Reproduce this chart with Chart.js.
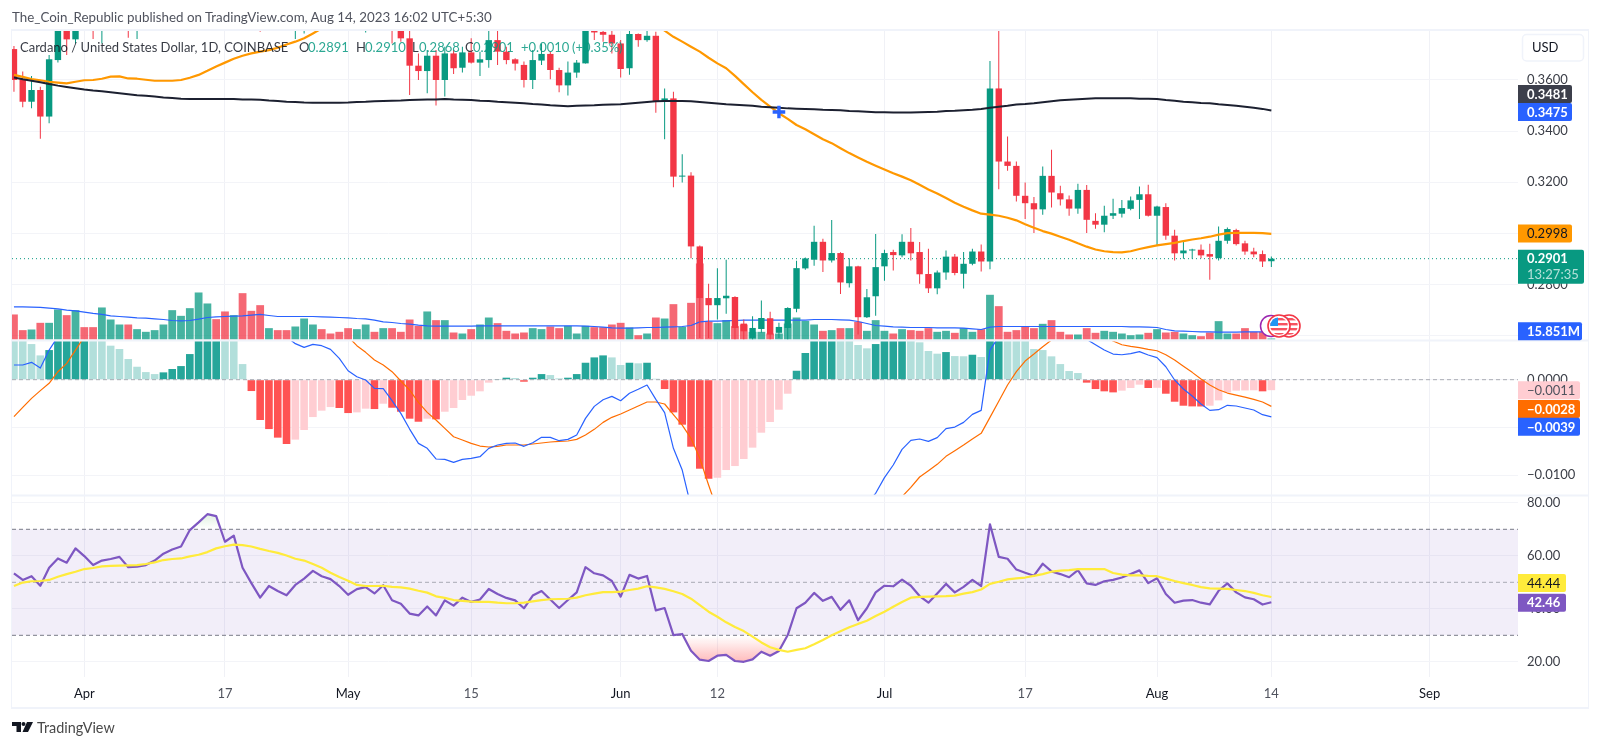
<!DOCTYPE html>
<html>
<head>
<meta charset="utf-8">
<script src="https://cdn.jsdelivr.net/npm/chart.js@4.4.3/dist/chart.umd.min.js"></script>
<style>
  html, body { margin: 0; padding: 0; background: #fff; }
  #wrap { position: relative; width: 1600px; height: 747px; overflow: hidden; font-family: Lato, sans-serif; }
  canvas { position: absolute; left: 0; top: 0; }
  .txt { position: absolute; white-space: nowrap; line-height: 18px; font-size: 13px; }
  .lg { top: 38px; color: #131722; opacity: 0.85; }
  .val { color: #089981; }
</style>
</head>
<body>
<div id="wrap">
  <canvas id="chart" width="1600" height="747"></canvas>
  <div class="txt" style="left:12px;top:8px;color:#50535e;font-size:13.35px">The_Coin_Republic published on TradingView.com, Aug 14, 2023 16:02 UTC+5:30</div>
  <div class="txt lg" style="left:20px">Cardano / United States Dollar, 1D, COINBASE</div>
  <div class="txt lg" style="left:299px">O</div><div class="txt lg val" style="left:308px">0.2891</div>
  <div class="txt lg" style="left:356px">H</div><div class="txt lg val" style="left:365px">0.2910</div>
  <div class="txt lg" style="left:412px">L</div><div class="txt lg val" style="left:419px">0.2868</div>
  <div class="txt lg" style="left:465px">C</div><div class="txt lg val" style="left:473px">0.2901</div>
  <div class="txt lg val" style="left:521px">+0.0010</div><div class="txt lg val" style="left:572px">(+0.35%)</div>
  <svg style="position:absolute;left:12px;top:722px" width="21" height="10" viewBox="0 0 21 10">
    <path d="M0 0H9V10H4.5V4H0Z M15 0H21L16 10H10.5Z" fill="#131722"/><circle cx="11.5" cy="2" r="2" fill="#131722"/>
  </svg>
  <div class="txt" style="left:37px;top:719px;color:#4a4a4a;font-size:14.4px">TradingView</div>
</div>
<script>
// daily bars, Mar 24 to Aug 14 2023. bars above the clipped top edge are estimates
const candleOpen = [
  .3721,.3603,.3515,.3561,.3457,.3678,.3920,.3759,.3905,.3880,
  .3850,.3920,.3950,.3980,.3900,.3950,.3990,.4020,.4040,.4120,
  .4160,.4210,.4350,.4460,.4440,.4380,.4400,.4200,.4120,.3950,
  .3990,.3960,.3930,.3980,.4030,.4060,.4030,.4010,.3990,.3950,
  .3980,.4010,.3970,.4000,.3850,.3763,.3656,.3635,.3695,.3600,
  .3704,.3648,.3708,.3668,.3678,.3756,.3711,.3681,.3659,.3600,
  .3676,.3702,.3639,.3579,.3629,.3665,.3793,.3788,.3777,.3743,
  .3646,.3780,.3756,.3773,.3515,.3528,.3222,.3226,.2949,.2747,
  .2719,.2746,.2751,.2647,.2591,.2626,.2668,.2611,.2630,.2705,
  .2863,.2897,.2967,.2894,.2923,.2805,.2871,.2672,.2754,.2871,
  .2927,.2914,.2967,.2927,.2841,.2785,.2847,.2909,.2842,.2881,
  .2929,.2890,.3567,.3281,.3264,.3147,.3118,.3094,.3225,.3157,
  .3133,.3097,.3170,.3049,.3034,.3069,.3077,.3096,.3131,.3153,
  .3069,.3103,.2991,.2922,.2933,.2936,.2919,.2903,.2971,.3013,
  .2961,.2929,.2919,.2891];
const candleHigh = [
  .3733,.3633,.3616,.3574,.3698,.3945,.3960,.3930,.3925,.3900,
  .3950,.3970,.4000,.3990,.3980,.4010,.4040,.4060,.4150,.4200,
  .4250,.4400,.4520,.4510,.4480,.4450,.4420,.4260,.4170,.4040,
  .4020,.4010,.4020,.4060,.4090,.4100,.4060,.4040,.4010,.4010,
  .4060,.4030,.4030,.4010,.3880,.3820,.3704,.3717,.3717,.3730,
  .3717,.3730,.3763,.3711,.3810,.3810,.3730,.3685,.3672,.3717,
  .3743,.3711,.3648,.3672,.3678,.3850,.3830,.3800,.3800,.3756,
  .3800,.3782,.3800,.3789,.3567,.3554,.3310,.3239,.2953,.2803,
  .2864,.2897,.2754,.2663,.2676,.2737,.2693,.2650,.2711,.2893,
  .2906,.3030,.2979,.3052,.2926,.2903,.2873,.2782,.2998,.2936,
  .2936,.2997,.3021,.2966,.2940,.2855,.2933,.2919,.2927,.2940,
  .2956,.3674,.3850,.3379,.3281,.3199,.3142,.3262,.3327,.3186,
  .3148,.3194,.3189,.3079,.3108,.3135,.3131,.3144,.3183,.3190,
  .3108,.3118,.3014,.2971,.2940,.2956,.2959,.3027,.3023,.3018,
  .2971,.2944,.2933,.2910];
const candleLow = [
  .3554,.3493,.3489,.3370,.3431,.3668,.3698,.3743,.3830,.3760,
  .3743,.3880,.3920,.3765,.3760,.3910,.3960,.3990,.4020,.4090,
  .4130,.4180,.4320,.4390,.4340,.4300,.4090,.4050,.3789,.3900,
  .3850,.3880,.3760,.3782,.3980,.3950,.3970,.3940,.3900,.3900,
  .3786,.3900,.3910,.3743,.3750,.3541,.3600,.3548,.3500,.3535,
  .3623,.3629,.3665,.3616,.3648,.3659,.3662,.3637,.3571,.3565,
  .3659,.3603,.3552,.3539,.3609,.3665,.3756,.3750,.3704,.3610,
  .3621,.3730,.3750,.3472,.3368,.3180,.3199,.2903,.2591,.2591,
  .2663,.2686,.2584,.2584,.2584,.2611,.2584,.2591,.2584,.2691,
  .2858,.2873,.2849,.2886,.2763,.2788,.2604,.2669,.2678,.2815,
  .2855,.2907,.2894,.2803,.2767,.2762,.2819,.2836,.2784,.2875,
  .2851,.2860,.3173,.3245,.3125,.3056,.3001,.3073,.3101,.3109,
  .3069,.3077,.3001,.3018,.3004,.3056,.3062,.3090,.3056,.3066,
  .2953,.2975,.2894,.2901,.2901,.2903,.2819,.2894,.2959,.2953,
  .2916,.2907,.2868,.2868];
const candleClose = [
  .3600,.3515,.3561,.3457,.3681,.3920,.3759,.3905,.3880,.3850,
  .3920,.3950,.3980,.3900,.3950,.3990,.4020,.4040,.4120,.4160,
  .4210,.4350,.4460,.4440,.4380,.4400,.4200,.4120,.3950,.3990,
  .3960,.3930,.3980,.4030,.4060,.4030,.4010,.3990,.3950,.3980,
  .4010,.3970,.4000,.3850,.3763,.3656,.3635,.3695,.3600,.3704,
  .3646,.3708,.3668,.3681,.3756,.3711,.3678,.3664,.3600,.3678,
  .3702,.3639,.3579,.3629,.3668,.3830,.3786,.3777,.3743,.3643,
  .3780,.3756,.3773,.3515,.3528,.3222,.3226,.2949,.2747,.2719,
  .2747,.2756,.2630,.2617,.2630,.2669,.2604,.2634,.2708,.2864,
  .2902,.2967,.2894,.2923,.2808,.2871,.2672,.2750,.2868,.2923,
  .2915,.2967,.2922,.2840,.2785,.2847,.2909,.2845,.2881,.2929,
  .2890,.3567,.3281,.3264,.3147,.3118,.3094,.3225,.3160,.3133,
  .3097,.3170,.3053,.3034,.3069,.3079,.3099,.3129,.3153,.3069,
  .3105,.2991,.2922,.2933,.2937,.2914,.2909,.2971,.3017,.2958,
  .2929,.2918,.2890,.2901];
const emaOrange = [
  .3620,.3612,.3604,.3599,.3593,.3590,.3587,.3593,.3599,.3600,
  .3605,.3613,.3614,.3606,.3605,.3601,.3597,.3597,.3597,.3600,
  .3609,.3620,.3636,.3653,.3668,.3683,.3695,.3704,.3711,.3717,
  .3726,.3739,.3750,.3763,.3782,.3802,.3822,.3840,.3858,.3875,
  .3890,.3905,.3918,.3930,.3942,.3950,.3958,.3965,.3970,.3975,
  .3980,.3983,.3985,.3987,.3988,.3989,.3990,.3990,.3989,.3985,
  .3980,.3975,.3970,.3965,.3958,.3952,.3945,.3938,.3930,.3920,
  .3905,.3885,.3855,.3818,.3793,.3769,.3750,.3730,.3711,.3687,
  .3665,.3646,.3616,.3584,.3552,.3522,.3496,.3470,.3448,.3424,
  .3407,.3388,.3368,.3353,.3333,.3314,.3297,.3280,.3265,.3250,
  .3235,.3222,.3208,.3190,.3172,.3156,.3138,.3120,.3104,.3090,
  .3077,.3073,.3069,.3061,.3051,.3036,.3022,.3009,.2999,.2987,
  .2975,.2961,.2948,.2937,.2930,.2927,.2926,.2930,.2939,.2946,
  .2953,.2958,.2963,.2970,.2976,.2981,.2987,.2995,.3001,.3002,
  .3002,.3002,.3001,.2998];
const emaBlack = [
  .3610,.3603,.3597,.3591,.3584,.3578,.3573,.3568,.3563,.3559,
  .3556,.3552,.3548,.3544,.3540,.3538,.3535,.3532,.3530,.3527,
  .3526,.3526,.3526,.3526,.3526,.3526,.3524,.3524,.3523,.3520,
  .3518,.3515,.3514,.3512,.3511,.3511,.3511,.3511,.3512,.3514,
  .3515,.3517,.3518,.3519,.3520,.3522,.3523,.3524,.3524,.3526,
  .3524,.3523,.3522,.3519,.3518,.3515,.3513,.3511,.3509,.3506,
  .3504,.3501,.3499,.3497,.3499,.3500,.3501,.3503,.3504,.3505,
  .3508,.3511,.3514,.3517,.3518,.3518,.3518,.3517,.3514,.3511,
  .3508,.3505,.3503,.3501,.3499,.3495,.3493,.3491,.3489,.3488,
  .3487,.3486,.3484,.3483,.3482,.3479,.3478,.3476,.3474,.3474,
  .3473,.3473,.3473,.3474,.3475,.3476,.3479,.3480,.3482,.3484,
  .3487,.3491,.3495,.3499,.3504,.3506,.3509,.3513,.3517,.3521,
  .3523,.3525,.3527,.3529,.3529,.3529,.3529,.3529,.3527,.3527,
  .3526,.3522,.3519,.3515,.3513,.3510,.3509,.3505,.3502,.3499,
  .3495,.3491,.3487,.3481];
// volume in millions
const volume = [
  47.6,17.8,19.0,31.7,31.7,57.1,46.3,55.8,23.5,23.5,
  60.9,38.0,28.5,28.5,19.7,14.6,17.8,28.5,55.8,45.0,
  59.6,89.4,68.5,38.7,53.3,46.3,88.1,54.5,65.3,21.6,
  17.8,17.8,24.7,39.9,28.5,19.7,11.4,14.6,21.6,19.7,
  28.5,14.6,21.6,21.6,14.6,38.0,26.0,53.3,36.8,36.8,
  13.3,11.4,19.7,28.5,41.8,31.1,16.5,11.4,13.3,21.6,
  19.7,24.7,21.6,26.0,11.4,26.0,23.5,23.5,28.5,31.7,
  22.8,8.2,11.4,41.8,39.9,67.2,24.1,69.7,144.6,34.2,
  31.1,36.8,25.4,28.5,14.6,14.6,11.4,11.4,30.4,41.8,
  35.5,28.5,16.5,17.8,21.6,21.6,33.6,16.5,36.8,16.5,
  11.4,19.7,17.8,16.5,21.6,14.6,16.5,12.7,21.6,14.6,
  19.7,85.0,63.4,14.6,17.8,24.1,21.6,29.8,36.8,14.6,
  9.5,9.5,21.6,12.7,16.5,14.6,11.4,8.2,9.5,12.7,
  19.7,13.3,14.6,11.4,8.2,6.3,13.3,34.9,11.4,11.4,
  21.6,14.6,14.6,1.9];
const volumeMa = [
  62.1,62.1,61.5,60.9,59.6,58.3,55.8,54.5,52.0,49.5,
  47.6,45.0,43.7,42.5,41.2,40.6,39.3,38.0,36.1,35.5,
  36.1,38.7,41.8,43.1,43.7,44.4,45.0,46.3,47.6,45.6,
  43.7,43.7,43.7,43.7,43.7,43.1,42.5,41.8,41.2,39.9,
  39.3,36.8,33.6,32.3,30.4,29.2,27.3,26.0,25.4,25.4,
  25.4,25.4,25.4,26.0,26.0,26.0,26.0,26.0,26.0,26.0,
  26.0,26.0,26.0,26.0,26.0,25.4,24.7,23.5,22.2,21.6,
  21.6,22.2,22.8,22.8,23.5,24.1,24.7,26.6,33.6,34.9,
  34.9,35.5,36.1,36.8,36.8,36.8,36.8,36.8,36.8,36.8,
  36.8,38.0,38.0,38.0,37.4,36.8,34.2,30.4,26.6,25.4,
  24.1,23.5,22.8,22.8,22.8,22.2,22.2,22.2,21.6,20.3,
  19.0,23.5,24.7,24.7,24.7,24.7,24.7,24.7,24.7,24.7,
  24.7,24.7,24.7,24.7,24.7,24.7,24.7,24.1,24.1,23.5,
  22.8,19.0,16.5,15.9,15.2,14.6,14.6,13.9,13.9,13.9,
  14.6,14.6,14.6,15.851];
const macdHist = [
  .0060,.0052,.00374,.00255,.00311,.0043,.0050,.0056,.0060,.0057,
  .0048,.00357,.00322,.00217,.00136,.00080,.00059,.00077,.00112,.00143,
  .00269,.0043,.0050,.0056,.0052,.0045,.00164,-.00119,-.00423,-.00518,
  -.00608,-.00675,-.00629,-.00528,-.00392,-.00325,-.00287,-.00297,-.00350,-.00343,
  -.00304,-.00308,-.00252,-.00294,-.00336,-.00409,-.00441,-.00409,-.00416,-.00336,
  -.00297,-.00213,-.00168,-.00122,-.00031,.00007,.00021,.00018,-.00021,.00021,
  .00059,.00049,.00014,.00021,.00059,.00178,.00234,.00255,.00234,.00154,
  .00178,.00172,.00178,.00010,-.00098,-.00343,-.00472,-.00703,-.00934,-.01039,
  -.01028,-.00948,-.00906,-.00832,-.00713,-.00556,-.00444,-.00315,-.00147,.00094,
  .00280,.0047,.0050,.0052,.0049,.0044,.00364,.00329,.00374,.0043,
  .0045,.0048,.0044,.00392,.00301,.00273,.00290,.00248,.00246,.00262,
  .00238,.0060,.0070,.0062,.0055,.0045,.00322,.00311,.00245,.00164,
  .00091,.00070,-.00031,-.00098,-.00122,-.00133,-.00115,-.00087,-.00052,-.00087,
  -.00085,-.00147,-.00231,-.00273,-.00280,-.00281,-.00273,-.00217,-.00133,-.00115,
  -.00113,-.00111,-.00122,-.0011];
const macdLine = [
  .00154,.00154,.00182,.00122,.00311,.00451,.0054,.0063,.0070,.0074,
  .0077,.0079,.0080,.0079,.0078,.0077,.0076,.0076,.0077,.0079,
  .0082,.0089,.0096,.0101,.0102,.0100,.0095,.0087,.0078,.0067,
  .0056,.0045,.00378,.00339,.00371,.00357,.00318,.00224,.00094,.00031,
  -.00003,-.00091,-.00094,-.00220,-.00353,-.00518,-.00668,-.00720,-.00832,-.00836,
  -.00867,-.00836,-.00825,-.00808,-.00720,-.00685,-.00668,-.00664,-.00699,-.00661,
  -.00605,-.00605,-.00640,-.00626,-.00580,-.00406,-.00280,-.00210,-.00175,-.00220,
  -.00143,-.00101,-.00056,-.00206,-.00346,-.00720,-.00948,-.01332,-.0150,-.0170,
  -.0185,-.0195,-.0200,-.0205,-.0207,-.0205,-.0200,-.0196,-.0190,-.0180,
  -.0170,-.0162,-.0155,-.0150,-.0145,-.0140,-.0135,-.0130,-.01192,-.01028,
  -.00895,-.00731,-.00636,-.00622,-.00647,-.00608,-.00514,-.00497,-.00448,-.00364,
  -.00322,.00311,.00451,.0056,.0063,.0067,.0069,.0070,.0068,.0063,
  .0056,.0049,.00423,.00367,.00311,.00269,.00262,.00273,.00294,.00259,
  .00231,.00136,-.00003,-.00098,-.00171,-.00255,-.00322,-.00315,-.00269,-.00276,
  -.00297,-.00318,-.00367,-.0039];
const macdSignal = [
  -.00388,-.00290,-.00196,-.00115,-.00038,.00084,.00171,.00311,.00451,.0050,
  .0056,.0061,.0065,.0069,.0071,.0073,.0074,.0075,.0075,.0076,
  .0077,.0078,.0080,.0082,.0084,.0085,.0085,.0084,.0082,.0079,
  .0076,.0072,.0068,.0065,.0061,.0057,.0053,.0049,.00451,.00357,
  .00287,.00206,.00154,.00084,-.00014,-.00108,-.00238,-.00343,-.00423,-.00511,
  -.00598,-.00633,-.00668,-.00696,-.00706,-.00699,-.00685,-.00685,-.00685,-.00675,
  -.00664,-.00654,-.00647,-.00643,-.00626,-.00580,-.00521,-.00448,-.00395,-.00360,
  -.00318,-.00276,-.00234,-.00234,-.00255,-.00367,-.00476,-.00615,-.00825,-.01105,
  -.0137,-.0143,-.0148,-.0153,-.0158,-.0162,-.0165,-.0168,-.0169,-.0170,
  -.0170,-.0168,-.0165,-.0160,-.0155,-.0150,-.0145,-.0141,-.0137,-.0133,
  -.0128,-.01227,-.01130,-.01021,-.00955,-.00888,-.00804,-.00745,-.00685,-.00622,
  -.00563,-.00395,-.00227,-.00056,.00084,.00196,.00269,.00346,.00416,.0047,
  .0051,.0053,.0052,.0049,.00444,.00406,.00367,.00350,.00336,.00318,
  .00304,.00262,.00206,.00140,.00077,.00007,-.00056,-.00105,-.00140,-.00161,
  -.00182,-.00206,-.00234,-.0028];
const rsiLine = [
  53.4,50.9,52.3,48.7,55.5,59.0,57.4,62.8,59.9,56.5,
  58.2,58.8,59.6,55.7,55.9,56.5,58.2,60.8,62.4,63.5,
  69.7,72.6,75.7,75.0,65.3,67.6,55.5,49.7,44.2,48.6,
  46.7,45.1,49.0,51.4,54.3,52.3,51.2,48.6,45.3,47.4,
  48.2,45.8,48.9,43.2,41.9,38.2,37.5,40.9,37.5,43.2,
  41.2,44.2,42.6,43.5,47.5,45.6,44.1,43.2,40.2,45.0,
  46.7,43.5,40.3,43.3,46.2,55.7,53.4,52.6,50.5,44.6,
  52.8,51.4,52.4,39.4,40.3,30.1,30.5,24.2,20.8,20.3,
  22.3,22.6,20.3,20.0,20.9,23.8,22.3,24.1,30.1,40.2,
  42.3,46.0,43.0,44.5,39.6,43.2,35.7,40.2,46.2,48.7,
  48.5,51.0,48.7,44.8,42.3,45.8,49.4,46.2,48.3,50.9,
  48.6,71.9,59.6,58.9,54.8,53.6,52.5,57.0,54.1,53.1,
  51.9,54.6,49.6,49.0,50.4,50.9,51.8,53.1,54.5,49.7,
  51.5,45.6,42.3,43.1,43.3,42.3,41.7,46.8,49.6,46.2,
  44.3,43.6,41.6,42.46];
const rsiMa = [
  48.6,49.9,50.4,50.5,50.9,52.1,53.1,54.0,55.0,55.4,
  56.0,56.2,56.3,56.4,56.5,56.9,57.5,58.4,58.8,59.0,
  59.8,60.4,61.4,62.8,63.6,64.2,64.0,63.5,62.6,61.8,
  61.1,60.1,58.9,58.2,56.9,55.5,53.6,52.0,50.6,49.0,
  48.6,48.6,48.7,48.3,48.1,47.6,46.8,46.1,44.7,44.1,
  43.3,43.0,42.7,42.6,42.6,42.3,42.1,42.1,42.3,42.8,
  43.3,43.6,43.7,43.8,44.2,45.1,45.7,46.3,46.3,46.5,
  47.1,47.6,48.5,48.1,47.5,46.6,45.6,43.8,41.4,38.9,
  37.0,34.9,33.1,31.6,29.5,27.3,25.5,24.5,23.8,24.5,
  25.1,26.6,28.2,30.0,31.5,33.0,34.3,35.5,37.3,38.9,
  40.8,42.6,44.2,44.5,44.6,44.7,44.8,45.0,45.7,46.3,
  47.3,49.4,50.2,51.1,51.5,51.8,52.4,53.1,54.0,54.4,
  54.6,55.0,55.0,55.0,55.0,53.5,52.9,52.6,52.6,52.4,
  52.3,51.4,50.5,49.7,49.0,48.2,47.7,47.6,47.5,47.1,
  46.7,46.0,45.1,44.44];

// time axis, as day index from Mar 24
const timeTicks = [8, 24, 38, 52, 69, 80, 99, 115, 130, 143, 161];
const timeLabels = ['Apr', '17', 'May', '15', 'Jun', '12', 'Jul', '17', 'Aug', '14', 'Sep'];
const monthLabels = ['Apr', 'May', 'Jun', 'Jul', 'Aug', 'Sep'];
const priceTicks = [0.36, 0.34, 0.32, 0.30, 0.28, 0.26];
const macdTicks = [0, -0.005, -0.01];
const rsiTicks = [80, 60, 40, 20];
const crossDay = 87;
const crossPrice = 0.3475;
const lastPrice = 0.2901;

const GREEN = '#089981', RED = '#F23645', FONT = 'Lato, sans-serif';
const plot = { left: 12, right: 1518, top: 30, bottom: 677, priceBottom: 340, macdBottom: 495 };

Chart.defaults.font.family = FONT;
Chart.defaults.font.size = 13;

// min/max so that two known values land on two known canvas rows
function yRange(v1, y1, v2, y2) {
  const perPx = (v2 - v1) / (y2 - y1);
  return { min: v1 + (plot.bottom - y1) * perPx, max: v1 + (plot.top - y1) * perPx };
}
const dayPx = 8.793, day0Px = 13.95;
const xMin = (plot.left - day0Px) / dayPx;
const xMax = (plot.right - day0Px) / dayPx;

// each pane only paints its own band of the shared plot area
const priceClip = { left: 0, right: 0, top: 0, bottom: plot.priceBottom - plot.bottom };
const macdClip = { left: 0, right: 0, top: plot.top - plot.priceBottom, bottom: plot.macdBottom - plot.bottom };
const rsiClip = { left: 0, right: 0, top: plot.top - plot.macdBottom, bottom: 0 };

const points = (arr) => arr.map((y, x) => ({ x, y }));
const isUp = candleOpen.map((o, i) => candleClose[i] >= o);
const candleColors = isUp.map((up) => (up ? GREEN : RED));
const volumeColors = isUp.map((up) => (up ? 'rgba(8,153,129,.75)' : 'rgba(242,54,69,.75)'));
const histColors = macdHist.map((v, i) => {
  const rising = i > 0 && v > macdHist[i - 1];
  if (v >= 0) return rising ? '#26A69A' : '#B2DFDB';
  return rising ? '#FFCDD2' : '#FF5252';
});

function barSet(yAxisID, data, colors, width, order, clip) {
  return { type: 'bar', yAxisID, data, backgroundColor: colors, grouped: false, maxBarThickness: width,
    categoryPercentage: 1, barPercentage: 1, inflateAmount: 0, borderWidth: 0, order, clip };
}
function lineSet(yAxisID, data, color, width, order, clip, extra) {
  return Object.assign({ type: 'line', yAxisID, data: points(data), borderColor: color, borderWidth: width,
    pointRadius: 0, tension: 0, fill: false, order, clip, borderJoinStyle: 'round' }, extra);
}
function levelSet(yAxisID, value, color, dash, order, clip, extra) {
  return Object.assign({ type: 'line', yAxisID, data: [{ x: xMin, y: value }, { x: xMax, y: value }],
    borderColor: color, borderWidth: 1, borderDash: dash, pointRadius: 0, fill: false, order, clip }, extra);
}

const canvas = document.getElementById('chart');
const ctx = canvas.getContext('2d');
const oversoldFill = ctx.createLinearGradient(0, 636, 0, 662);
oversoldFill.addColorStop(0, 'rgba(255,82,82,0)');
oversoldFill.addColorStop(1, 'rgba(255,82,82,.4)');
const overboughtFill = ctx.createLinearGradient(0, 529, 0, 507);
overboughtFill.addColorStop(0, 'rgba(76,175,80,0)');
overboughtFill.addColorStop(1, 'rgba(76,175,80,.25)');

const datasets = [
  levelSet('rsi', 70, '#787B86', [4, 3], 40, rsiClip, { fill: { value: 30 }, backgroundColor: 'rgba(126,87,194,.1)' }),
  levelSet('rsi', 50, 'rgba(120,123,134,.6)', [4, 3], 39, rsiClip),
  levelSet('rsi', 30, '#787B86', [4, 3], 38, rsiClip),
  lineSet('rsi', rsiLine, 'rgba(0,0,0,0)', 0, 37, rsiClip, { fill: { target: { value: 30 }, above: 'rgba(0,0,0,0)', below: oversoldFill } }),
  lineSet('rsi', rsiLine, 'rgba(0,0,0,0)', 0, 36, rsiClip, { fill: { target: { value: 70 }, above: overboughtFill, below: 'rgba(0,0,0,0)' } }),
  lineSet('rsi', rsiLine, '#7E57C2', 2.2, 35, rsiClip),
  lineSet('rsi', rsiMa, '#FFEB3B', 2.2, 34, rsiClip),

  barSet('macd', points(macdHist), histColors, 7.6, 30, macdClip),
  levelSet('macd', 0, 'rgba(120,123,134,.6)', [4, 3], 29, macdClip),
  lineSet('macd', macdSignal, '#FF6D00', 1.2, 28, macdClip),
  lineSet('macd', macdLine, '#2962FF', 1.2, 27, macdClip),

  barSet('volume', points(volume), volumeColors, 7.8, 20, priceClip),
  lineSet('volume', volumeMa, '#2962FF', 1.2, 19, priceClip),
  levelSet('price', lastPrice, GREEN, [1, 3], 18, priceClip),
  barSet('price', candleLow.map((low, x) => ({ x, y: [low, candleHigh[x]] })), candleColors, 1, 17, priceClip),
  barSet('price', candleOpen.map((o, x) => ({ x, y: [o, candleClose[x]] })), candleColors, 6.4, 16, priceClip),
  lineSet('price', emaOrange, '#FF9800', 2.2, 15, priceClip),
  lineSet('price', emaBlack, '#1c2030', 2, 14, priceClip),
  { type: 'line', yAxisID: 'price', data: [{ x: crossDay, y: crossPrice }], showLine: false, pointStyle: 'cross',
    pointRadius: 6.3, pointBorderWidth: 3.4, pointBorderColor: '#2962FF', order: 13, clip: priceClip },
];

function yAxis(range, ticks, format) {
  return {
    position: 'right', min: range.min, max: range.max, beginAtZero: false,
    afterBuildTicks: (scale) => { scale.ticks = ticks.map((value) => ({ value })); },
    afterFit: (scale) => { scale.width = 0; },
    border: { display: false },
    grid: { color: '#F3F4F8', drawTicks: false, display: ticks.length > 0 },
    ticks: { display: ticks.length > 0, autoSkip: false, padding: 9, color: '#3b3e47', callback: format },
  };
}

// value tags in the right hand axis. shift moves a tag off its neighbour
const axisTags = [
  { axis: 'price', value: 0.3481, text: '0.3481', bg: '#3C3F4B', fg: '#fff', width: 54, shift: -16.5, bold: true },
  { axis: 'price', value: 0.3475, text: '0.3475', bg: '#2962FF', fg: '#fff', width: 54, shift: 0, bold: true },
  { axis: 'price', value: 0.2998, text: '0.2998', bg: '#FF9800', fg: '#131722', width: 54, shift: -0.5 },
  { axis: 'volume', value: 15.851, text: '15.851M', bg: '#2962FF', fg: '#fff', width: 64, shift: 0, bold: true },
  { axis: 'macd', value: -0.0011, text: '\u22120.0011', bg: '#FFCDD2', fg: '#50535E', width: 62, shift: 0 },
  { axis: 'macd', value: -0.0028, text: '\u22120.0028', bg: '#FF6D00', fg: '#fff', width: 62, shift: 2.6, bold: true },
  { axis: 'macd', value: -0.0039, text: '\u22120.0039', bg: '#2962FF', fg: '#fff', width: 62, shift: 10, bold: true },
  { axis: 'rsi', value: 44.44, text: '44.44', bg: '#FFEB3B', fg: '#131722', width: 48, shift: -14 },
  { axis: 'rsi', value: 42.46, text: '42.46', bg: '#7E57C2', fg: '#fff', width: 48, shift: 0.5, bold: true },
];

function drawTag(c, x, y, w, h, bg) {
  c.fillStyle = bg;
  c.beginPath();
  c.roundRect(x, y, w, h, [0, 2, 2, 0]);
  c.fill();
}

function drawFlag(c, x, y, r) {
  c.save();
  c.beginPath();
  c.arc(x, y, r, 0, Math.PI * 2);
  c.fillStyle = '#fff';
  c.fill();
  c.strokeStyle = RED;
  c.lineWidth = 1.6;
  c.stroke();
  c.beginPath();
  c.arc(x, y, r - 2.2, 0, Math.PI * 2);
  c.clip();
  c.fillStyle = '#F7525F';
  for (let s = -8; s < 9; s += 5) c.fillRect(x - r, y + s, r * 2, 2.4);
  c.fillStyle = '#2196F3';
  c.fillRect(x - r, y - r, r - 1, r);
  c.restore();
}

const decorPlugin = {
  id: 'decor',
  // the axes are zero width for the layout, but labels get clipped to the scale box
  afterLayout(chart) {
    Object.values(chart.scales).forEach((scale) => {
      if (scale.axis === 'y') scale.right = chart.width;
      else scale.bottom = chart.height;
    });
  },
  afterDraw(chart) {
    const c = chart.ctx;
    c.save();
    // pane frame
    c.fillStyle = '#F0F3FA';
    c.fillRect(11, 29, 1578, 2);
    c.fillRect(11, 339.5, 1578, 2);
    c.fillRect(11, 494.5, 1578, 2);
    c.fillRect(11, 707, 1578, 2);
    c.fillRect(11, 29, 1, 680);
    c.fillRect(1588, 29, 1, 680);

    // event markers on the last bars
    c.beginPath();
    c.arc(1271, 326, 10.5, 0, Math.PI * 2);
    c.fillStyle = '#fff';
    c.fill();
    c.strokeStyle = '#9C27B0';
    c.lineWidth = 1.5;
    c.stroke();
    drawFlag(c, 1289, 326, 11);
    drawFlag(c, 1279, 326, 11);

    c.textBaseline = 'middle';
    c.textAlign = 'left';
    axisTags.forEach((tag) => {
      const y = chart.scales[tag.axis].getPixelForValue(tag.value) + tag.shift;
      drawTag(c, plot.right, y - 9, tag.width, 18, tag.bg);
      c.font = (tag.bold ? 'bold ' : '') + '13px ' + FONT;
      c.fillStyle = tag.fg;
      c.fillText(tag.text, 1527, y + 0.5);
    });

    // last price block with the countdown
    const py = chart.scales.price.getPixelForValue(lastPrice);
    drawTag(c, plot.right, py - 9, 66, 34, GREEN);
    c.font = 'bold 13px ' + FONT;
    c.fillStyle = '#fff';
    c.fillText('0.2901', 1527, py + 0.5);
    c.font = '13px ' + FONT;
    c.fillStyle = 'rgba(255,255,255,.7)';
    c.fillText('13:27:35', 1527, py + 16.5);

    // currency button
    c.fillStyle = '#fff';
    c.strokeStyle = '#F0F3FA';
    c.lineWidth = 1.5;
    c.beginPath();
    c.roundRect(1522.5, 34.5, 61, 26.5, 4);
    c.fill();
    c.stroke();
    c.fillStyle = '#131722';
    c.fillText('USD', 1532, 48);
    c.restore();
  },
};

new Chart(ctx, {
  type: 'line',
  data: { datasets },
  plugins: [decorPlugin],
  options: {
    responsive: false,
    animation: false,
    events: [],
    layout: { autoPadding: false, padding: { left: plot.left, right: 1600 - plot.right, top: plot.top, bottom: 747 - plot.bottom } },
    plugins: { legend: { display: false }, tooltip: { enabled: false } },
    scales: {
      x: {
        type: 'linear', min: xMin, max: xMax, offset: false,
        afterBuildTicks: (scale) => { scale.ticks = timeTicks.map((value) => ({ value })); },
        afterFit: (scale) => { scale.height = 0; },
        border: { display: false },
        grid: { color: '#F0F1F6', drawTicks: false, offset: false },
        ticks: {
          autoSkip: false, maxRotation: 0, padding: 9,
          callback: (value) => timeLabels[timeTicks.indexOf(value)],
          color: (c) => (monthLabels.includes(c.tick && timeLabels[timeTicks.indexOf(c.tick.value)]) ? '#131722' : '#50535E'),
        },
      },
      price: yAxis(yRange(0.36, 80, 0.28, 284.5), priceTicks, (v) => v.toFixed(4)),
      volume: yAxis(yRange(0, 339.5, 100, 286.9), [], () => ''),
      macd: yAxis(yRange(0, 379.7, -0.01, 475), macdTicks, (v) => v.toFixed(4).replace('-', '\u2212')),
      rsi: yAxis(yRange(70, 529.3, 30, 635.3), rsiTicks, (v) => v.toFixed(2)),
    },
  },
});
</script>
</body>
</html>
